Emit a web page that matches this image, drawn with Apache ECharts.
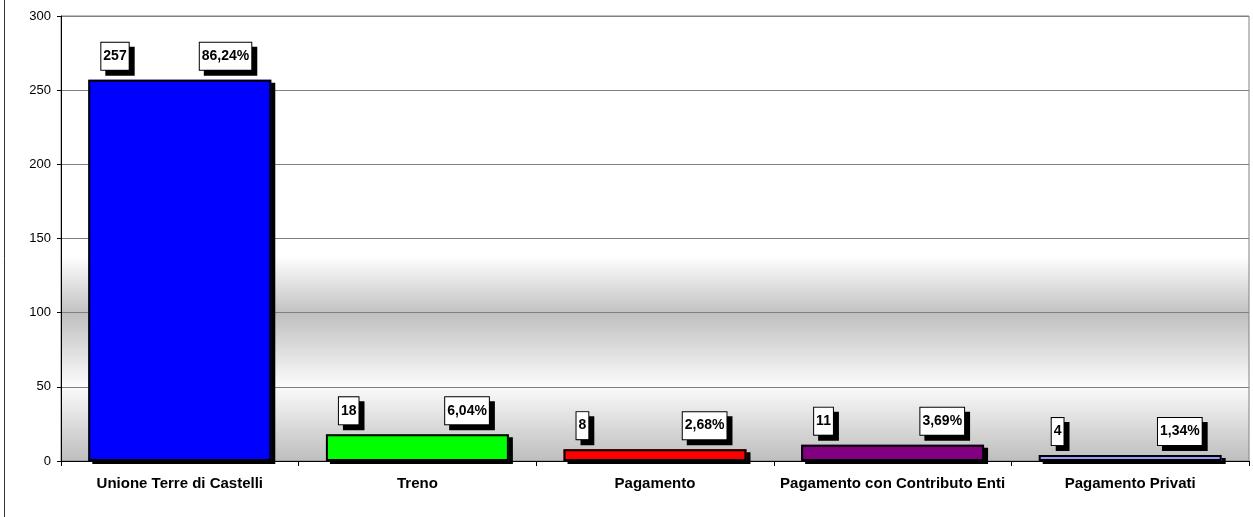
<!DOCTYPE html>
<html>
<head>
<meta charset="utf-8">
<title>Trasporti</title>
<script src="https://cdn.jsdelivr.net/npm/echarts@6/dist/echarts.min.js"></script>
<style>
	html, body { margin: 0; padding: 0; background: #fff; }
	#chart { width: 1253px; height: 517px; }
</style>
</head>
<body>
<div id="chart"></div>
<script>
// dati
var categories = ['Unione Terre di Castelli', 'Treno', 'Pagamento', 'Pagamento con Contributo Enti', 'Pagamento Privati'];
var values = [257, 18, 8, 11, 4];
var percents = ['86,24%', '6,04%', '2,68%', '3,69%', '1,34%'];
var barColors = ['#0000ff', '#00ff00', '#ff0000', '#800080', '#9999ff'];
var yTicks = [0, 50, 100, 150, 200, 250, 300];

var font = "'Liberation Sans', Arial, sans-serif";

// stile comune delle etichette (riquadro bianco con ombra nera)
function boxLabel(pos, align, offset, fmt) {
	return {
		show: true,
		position: pos,
		align: align,
		verticalAlign: 'bottom',
		offset: offset,
		formatter: fmt,
		fontFamily: font,
		fontSize: 14,
		lineHeight: 15,
		fontWeight: 'bold',
		color: '#000',
		backgroundColor: '#fff',
		borderColor: '#000',
		borderWidth: 1,
		padding: [6, 2, 6, 2],
		shadowColor: '#000',
		shadowBlur: 0,
		shadowOffsetX: 5,
		shadowOffsetY: 5
	};
}

var barData = values.map(function(v, i) {
	return {
		value: v,
		itemStyle: { color: barColors[i] }
	};
});

var chart = echarts.init(document.getElementById('chart'), null, { renderer: 'canvas' });

var option = {
	animation: false,
	backgroundColor: '#fff',
	grid: {
		left: 61,
		right: 4,
		top: 16,
		bottom: 56,
		show: true,
		borderColor: '#808080',
		borderWidth: 1,
		backgroundColor: new echarts.graphic.LinearGradient(0, 0, 0, 1, [
			{ offset: 0, color: '#ffffff' },
			{ offset: 0.54, color: '#ffffff' },
			{ offset: 0.67, color: '#c0c0c0' },
			{ offset: 0.83, color: '#fbfbfb' },
			{ offset: 1, color: '#bdbdbd' }
		])
	},
	graphic: [{
		type: 'line',
		shape: { x1: 4.5, y1: 0, x2: 4.5, y2: 517 },
		style: { stroke: '#333', lineWidth: 1 }
	}],
	xAxis: {
		type: 'category',
		data: categories,
		axisLine: { lineStyle: { color: '#000', width: 1 } },
		axisTick: { show: true, length: 5, lineStyle: { color: '#000' } },
		axisLabel: {
			interval: 0,
			margin: 15,
			fontFamily: font,
			fontSize: 15,
			fontWeight: 'bold',
			color: '#000'
		},
		splitLine: { show: false }
	},
	yAxis: {
		type: 'value',
		min: yTicks[0],
		max: yTicks[yTicks.length - 1],
		interval: yTicks[1] - yTicks[0],
		axisLine: { show: true, lineStyle: { color: '#000', width: 1 } },
		axisTick: { show: true, length: 4, lineStyle: { color: '#000' } },
		axisLabel: {
			margin: 10,
			fontFamily: font,
			fontSize: 13,
			color: '#000'
		},
		splitLine: { show: true, lineStyle: { color: '#808080', width: 1 } }
	},
	series: [{
		// riempimento con ombra
		name: 'valori',
		type: 'bar',
		barWidth: '77%',
		barGap: '-100%',
		data: barData,
		itemStyle: {
			borderWidth: 0,
			shadowColor: '#000',
			shadowBlur: 0,
			shadowOffsetX: 4,
			shadowOffsetY: 3
		},
		label: boxLabel([13, 0], 'left', [0, -10], function(p) {
			return String(p.value);
		}),
		z: 3
	}, {
		// bordo nero + percentuali
		name: 'percentuali',
		type: 'bar',
		barWidth: '77%',
		barGap: '-100%',
		silent: true,
		data: values,
		itemStyle: {
			color: 'rgba(0,0,0,0)',
			borderColor: '#000',
			borderWidth: 2
		},
		label: boxLabel(['100%', 0], 'right', [-20, -10], function(p) {
			return percents[p.dataIndex];
		}),
		z: 4
	}]
};

chart.setOption(option);
</script>
</body>
</html>
